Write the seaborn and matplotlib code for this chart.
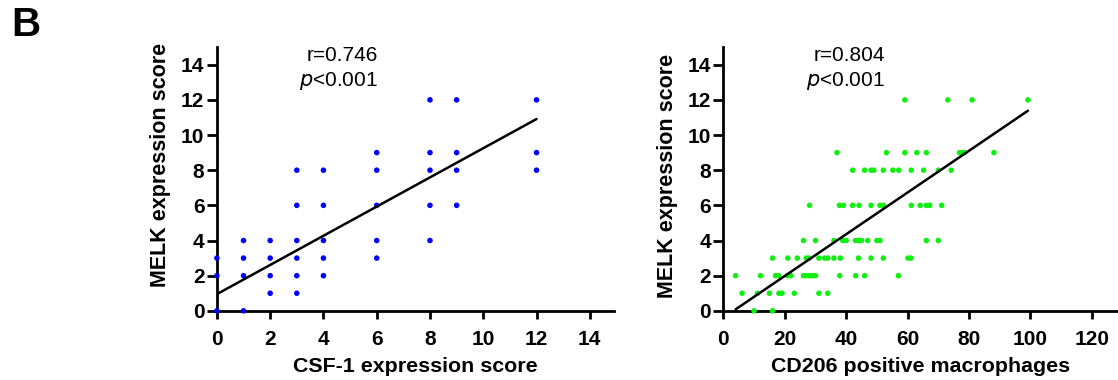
import numpy as np
import pandas as pd
import matplotlib
matplotlib.use("Agg")
import matplotlib.pyplot as plt
import seaborn as sns

# ---- data: left panel (CSF-1 vs MELK) ----
csf1_x = [0, 0, 0, 1, 1, 1, 1, 2, 2, 2, 2, 3, 3, 3, 3, 3, 3, 4, 4, 4, 4, 4,
          6, 6, 6, 6, 6, 8, 8, 8, 8, 8, 9, 9, 9, 9, 12, 12, 12]
csf1_melk = [0, 2, 3, 0, 2, 3, 4, 1, 2, 3, 4, 1, 2, 3, 4, 6, 8, 2, 3, 4, 6, 8,
             3, 4, 6, 8, 9, 4, 6, 8, 9, 12, 6, 8, 9, 12, 8, 9, 12]
csf1_fit = [0.95, 0.83]  # intercept, slope

# ---- data: right panel (CD206 vs MELK) ----
cd206_x = [59.1, 73.1, 81.0, 99.2,
           37.0, 53.1, 59.1, 63.0, 66.1, 76.9, 77.7, 78.5, 88.1,
           42.1, 46.0, 48.1, 49.0, 52.1, 55.2, 57.1, 61.2, 65.2, 70.0, 74.2,
           28.1, 37.8, 39.1, 42.1, 44.2, 48.1, 51.0, 52.1, 61.2, 64.1, 66.1, 67.2, 71.1,
           26.1, 30.0, 36.0, 38.9, 40.0, 43.0, 44.0, 45.0, 47.0, 50.0, 51.0, 66.1, 70.0,
           16.0, 21.0, 24.1, 27.0, 27.9, 31.1, 33.0, 34.0, 36.0, 38.1, 44.0, 48.1, 52.1, 60.1, 61.1,
           4.0, 12.1, 17.0, 18.1, 20.9, 22.0, 26.1, 27.0, 28.1, 29.1, 30.0, 37.9, 43.1, 46.0, 57.0,
           6.1, 11.1, 15.0, 18.1, 19.1, 23.1, 31.1, 34.0,
           10.0, 16.0]
cd206_melk = ([12] * 4 + [9] * 9 + [8] * 11 + [6] * 13 + [4] * 13 +
              [3] * 15 + [2] * 15 + [1] * 8 + [0] * 2)
cd206_fit = [-0.39, 0.1187]  # intercept, slope

x_ticks_left = [0, 2, 4, 6, 8, 10, 12, 14]
x_ticks_right = [0, 20, 40, 60, 80, 100, 120]
y_ticks = [0, 2, 4, 6, 8, 10, 12, 14]

sns.set_style("ticks")
plt.rcParams['font.family'] = ['Liberation Sans', 'DejaVu Sans']
plt.rcParams['text.color'] = 'black'
plt.rcParams['axes.labelcolor'] = 'black'
plt.rcParams['xtick.color'] = 'black'
plt.rcParams['ytick.color'] = 'black'
plt.rcParams['axes.edgecolor'] = 'black'

fig = plt.figure(figsize=(11.18, 3.8), dpi=100)
ax1 = fig.add_axes([0.194, 0.182, 0.355, 0.694])
ax2 = fig.add_axes([0.647, 0.182, 0.353, 0.694])


def panel(ax, xs, ys, fit, color, xlim, xticks, xlabel, r_text, text_x, ylab_y):
    df = pd.DataFrame({"x": xs, "y": ys})
    sns.scatterplot(data=df, x="x", y="y", ax=ax, color=color, s=16,
                    edgecolor="none", clip_on=False, zorder=3)
    xr = np.array([min(xs), max(xs)])
    line = pd.DataFrame({"x": xr, "y": fit[0] + fit[1] * xr})
    sns.lineplot(data=line, x="x", y="y", ax=ax, color="black", lw=1.8, zorder=4)
    ax.set_xlim(*xlim)
    ax.set_ylim(0, 15)
    ax.set_xticks(xticks)
    ax.set_yticks(y_ticks)
    for s in ["top", "right"]:
        ax.spines[s].set_visible(False)
    for s in ["left", "bottom"]:
        ax.spines[s].set_linewidth(2)
    ax.tick_params(axis="x", width=2, length=6, labelsize=15, pad=7.5)
    ax.tick_params(axis="y", width=2, length=7, labelsize=15, pad=2)
    for lab in ax.get_xticklabels() + ax.get_yticklabels():
        lab.set_fontweight("bold")
    ax.set_xlabel(xlabel, fontsize=15.4, fontweight="bold", labelpad=6)
    ax.set_ylabel("MELK expression score", fontsize=15.5, fontweight="bold", labelpad=7)
    ax.yaxis.label.set_y(ylab_y)
    ax.text(text_x, 14.55, r_text, fontsize=15, ha="right", va="center",
            transform=ax.transData)
    ax.text(text_x, 13.05, r"$\it{p}$<0.001", fontsize=15, ha="right", va="center",
            transform=ax.transData)


panel(ax1, csf1_x, csf1_melk, csf1_fit, "#0000FF", (0, 14.9), x_ticks_left,
      "CSF-1 expression score", "r=0.746", 6.05, 0.553)
panel(ax2, cd206_x, cd206_melk, cd206_fit, "#11EE11", (0, 128.5), x_ticks_right,
      "CD206 positive macrophages", "r=0.804", 52.7, 0.511)

fig.text(0.010, 0.935, "B", fontsize=29, fontweight="bold", ha="left", va="center")

fig.savefig("out.png", dpi=100)
